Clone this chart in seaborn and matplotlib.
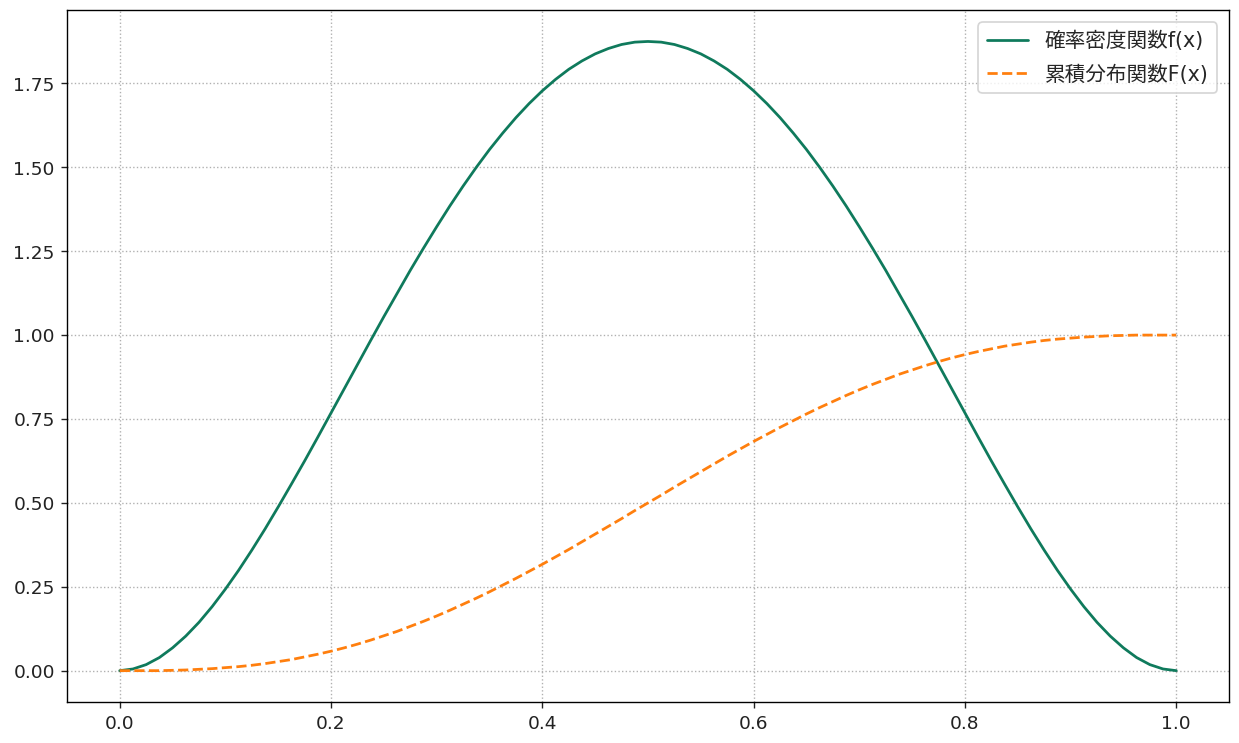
import pandas as pd
import seaborn as sns
import matplotlib.pyplot as plt

# x positions (step 0.0125)
x_vals = [i / 80 for i in range(81)]

# probability density f(x)
pdf_vals = [
    0.000, 0.005, 0.018, 0.039, 0.068, 0.103, 0.144, 0.191, 0.243, 0.299,
    0.359, 0.422, 0.488, 0.556, 0.625, 0.696, 0.768, 0.840, 0.912, 0.984,
    1.055, 1.124, 1.193, 1.259, 1.323, 1.385, 1.444, 1.500, 1.553, 1.602,
    1.648, 1.690, 1.728, 1.762, 1.792, 1.817, 1.838, 1.854, 1.866, 1.873,
    1.875,
    1.873, 1.866, 1.854, 1.838, 1.817, 1.792, 1.762, 1.728, 1.690, 1.648,
    1.602, 1.553, 1.500, 1.444, 1.385, 1.323, 1.259, 1.193, 1.124, 1.055,
    0.984, 0.912, 0.840, 0.768, 0.696, 0.625, 0.556, 0.488, 0.422, 0.359,
    0.299, 0.243, 0.191, 0.144, 0.103, 0.068, 0.039, 0.018, 0.005, 0.000,
]

# cumulative distribution F(x)
cdf_vals = [
    0.000, 0.000, 0.000, 0.000, 0.001, 0.002, 0.004, 0.006, 0.009, 0.012,
    0.016, 0.021, 0.027, 0.033, 0.041, 0.049, 0.058, 0.068, 0.079, 0.091,
    0.104, 0.117, 0.132, 0.147, 0.163, 0.180, 0.198, 0.216, 0.235, 0.255,
    0.275, 0.296, 0.317, 0.339, 0.361, 0.384, 0.407, 0.430, 0.453, 0.477,
    0.500,
    0.523, 0.547, 0.570, 0.593, 0.616, 0.639, 0.661, 0.683, 0.704, 0.725,
    0.745, 0.765, 0.784, 0.802, 0.820, 0.837, 0.853, 0.868, 0.883, 0.896,
    0.909, 0.921, 0.932, 0.942, 0.951, 0.959, 0.967, 0.973, 0.979, 0.984,
    0.988, 0.991, 0.994, 0.996, 0.998, 0.999, 1.000, 1.000, 1.000, 1.000,
]

labels = ['確率密度関数f(x)', '累積分布関数F(x)']
y_ticks = [0, 0.25, 0.5, 0.75, 1.0, 1.25, 1.5, 1.75]

sns.set_style('ticks')
plt.rcParams['font.family'] = ['DejaVu Sans', 'Noto Sans CJK JP']

df = pd.DataFrame({'x': x_vals, 'pdf': pdf_vals, 'cdf': cdf_vals})

fig, ax = plt.subplots(figsize=(10, 6), dpi=123.9)
sns.lineplot(data=df, x='x', y='pdf', ax=ax, color='#0f7a5c', linewidth=1.6, label=labels[0])
sns.lineplot(data=df, x='x', y='cdf', ax=ax, color='#ff7f0e', linewidth=1.6, linestyle='--', label=labels[1])

ax.set_xlabel('')
ax.set_ylabel('')
ax.grid(True, linestyle=':', color='#b0b0b0', linewidth=0.8)
ax.set_yticks(y_ticks)
ax.set_yticklabels([f'{v:.2f}' for v in y_ticks])
ax.tick_params(labelsize=10.8, colors='#222222')
for s in ax.spines.values():
    s.set_visible(True)
    s.set_color('black')
ax.legend(loc='upper right', fontsize=12, labelspacing=0.65, borderaxespad=0.6)

fig.subplots_adjust(left=0.054, right=0.992, top=0.986, bottom=0.055)
plt.savefig('out.png')
